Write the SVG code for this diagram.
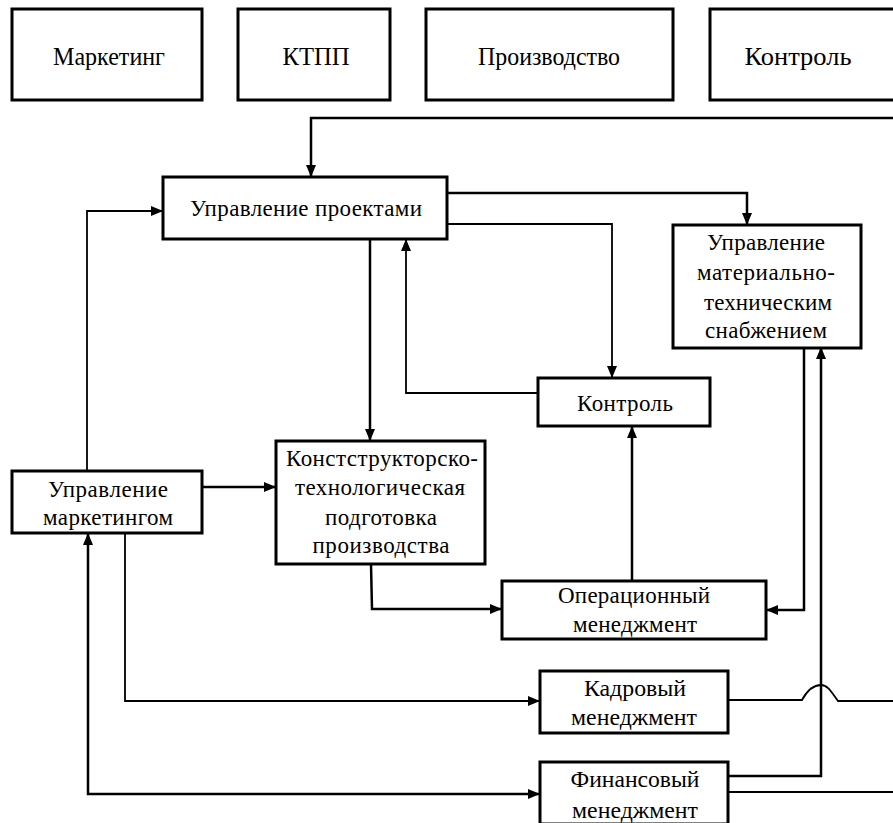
<svg xmlns="http://www.w3.org/2000/svg" width="893" height="823" viewBox="0 0 893 823" font-family="'Liberation Serif', 'Times New Roman', serif">
<defs>
<style>
.box{fill:#fff;stroke:#000;stroke-width:3}
text{font-family:'Liberation Serif','Times New Roman',serif;fill:#000;text-anchor:middle}
.top{font-size:26px}
.lo{font-size:23px}
.c{fill:none;stroke:#000;stroke-linejoin:miter}
.k{stroke-width:2.5}
.n{stroke-width:1.8}
</style>
<marker id="ah" viewBox="0 0 12 10" refX="12" refY="5" markerWidth="12" markerHeight="10" markerUnits="userSpaceOnUse" orient="auto-start-reverse">
<path d="M0,0 L12,5 L0,10 Z" fill="#000"/>
</marker>
</defs>
<rect width="893" height="823" fill="#fff"/>

<g id="top-marketing"><rect class="box" x="12" y="9" width="190" height="91"/><text class="top" x="109" y="65" textLength="112" lengthAdjust="spacingAndGlyphs">Маркетинг</text></g>
<g id="top-ktpp"><rect class="box" x="238" y="9" width="152" height="91"/><text class="top" x="316" y="65" textLength="67" lengthAdjust="spacingAndGlyphs">КТПП</text></g>
<g id="top-production"><rect class="box" x="426" y="9" width="247" height="91"/><text class="top" x="549" y="65" textLength="142" lengthAdjust="spacingAndGlyphs">Производство</text></g>
<g id="top-control"><rect class="box" x="710" y="9" width="190" height="91"/><text class="top" x="798" y="65" textLength="107" lengthAdjust="spacingAndGlyphs">Контроль</text></g>

<g id="connectors">
<polyline class="c k" points="893,118 311,118 311,177" marker-end="url(#ah)"/>
<polyline class="c n" points="87,471 87,211 163,211" marker-end="url(#ah)"/>
<polyline class="c k" points="447,193 747,193 747,225" marker-end="url(#ah)"/>
<polyline class="c n" points="447,224 612,224 612,378" marker-end="url(#ah)"/>
<polyline class="c k" points="370,239 370,441" marker-end="url(#ah)"/>
<polyline class="c n" points="538,393 406,393 406,239" marker-end="url(#ah)"/>
<polyline class="c k" points="202,487 276,487" marker-end="url(#ah)"/>
<polyline class="c k" points="371,564 372,609 502,609" marker-end="url(#ah)"/>
<polyline class="c k" points="632,581 632,426" marker-end="url(#ah)"/>
<polyline class="c k" points="804,347 804,610 766,610" marker-end="url(#ah)"/>
<polyline class="c k" points="728,776 821,776 821,347" marker-end="url(#ah)"/>
<polyline class="c n" points="125,533 125,701 540,701" marker-end="url(#ah)"/>
<polyline class="c k" points="88,533 88,794 540,794" marker-start="url(#ah)" marker-end="url(#ah)"/>
<path class="c n" d="M728,700 L802,700 C808,689 814,685 821,685 C828,685 832,693 838,701 L893,701"/>
<path class="c n" d="M728,792 L893,792"/>
</g>

<g id="project-mgmt"><rect class="box" x="163" y="177" width="284" height="62"/><text class="lo" x="306" y="216" textLength="232">Управление проектами</text></g>
<g id="supply-mgmt"><rect class="box" x="673" y="225" width="188" height="123"/>
<text class="lo" x="766" y="250" textLength="118">Управление</text>
<text class="lo" x="766" y="280" textLength="138">материально-</text>
<text class="lo" x="768" y="310" textLength="128">техническим</text>
<text class="lo" x="766" y="338" textLength="122">снабжением</text></g>
<g id="control"><rect class="box" x="538" y="378" width="172" height="48"/><text class="lo" x="625" y="411" textLength="96">Контроль</text></g>
<g id="ktpp"><rect class="box" x="276" y="441" width="209" height="123"/>
<text class="lo" x="382" y="466" textLength="192">Констструкторско-</text>
<text class="lo" x="380" y="495" textLength="170">технологическая</text>
<text class="lo" x="381" y="525" textLength="112">подготовка</text>
<text class="lo" x="381" y="553" textLength="137">производства</text></g>
<g id="marketing-mgmt"><rect class="box" x="12" y="471" width="190" height="62"/>
<text class="lo" x="108" y="497" textLength="120">Управление</text>
<text class="lo" x="108" y="525" textLength="130">маркетингом</text></g>
<g id="operations"><rect class="box" x="502" y="581" width="264" height="58"/>
<text class="lo" x="634" y="603" textLength="152">Операционный</text>
<text class="lo" x="635" y="632" textLength="124">менеджмент</text></g>
<g id="hr"><rect class="box" x="540" y="671" width="188" height="62"/>
<text class="lo" x="635" y="696" textLength="102" lengthAdjust="spacingAndGlyphs">Кадровый</text>
<text class="lo" x="634" y="725" textLength="126" lengthAdjust="spacingAndGlyphs">менеджмент</text></g>
<g id="finance"><rect class="box" x="540" y="762" width="188" height="62"/>
<text class="lo" x="635" y="787" textLength="129" lengthAdjust="spacingAndGlyphs">Финансовый</text>
<text class="lo" x="635" y="818" textLength="126" lengthAdjust="spacingAndGlyphs">менеджмент</text></g>
</svg>
